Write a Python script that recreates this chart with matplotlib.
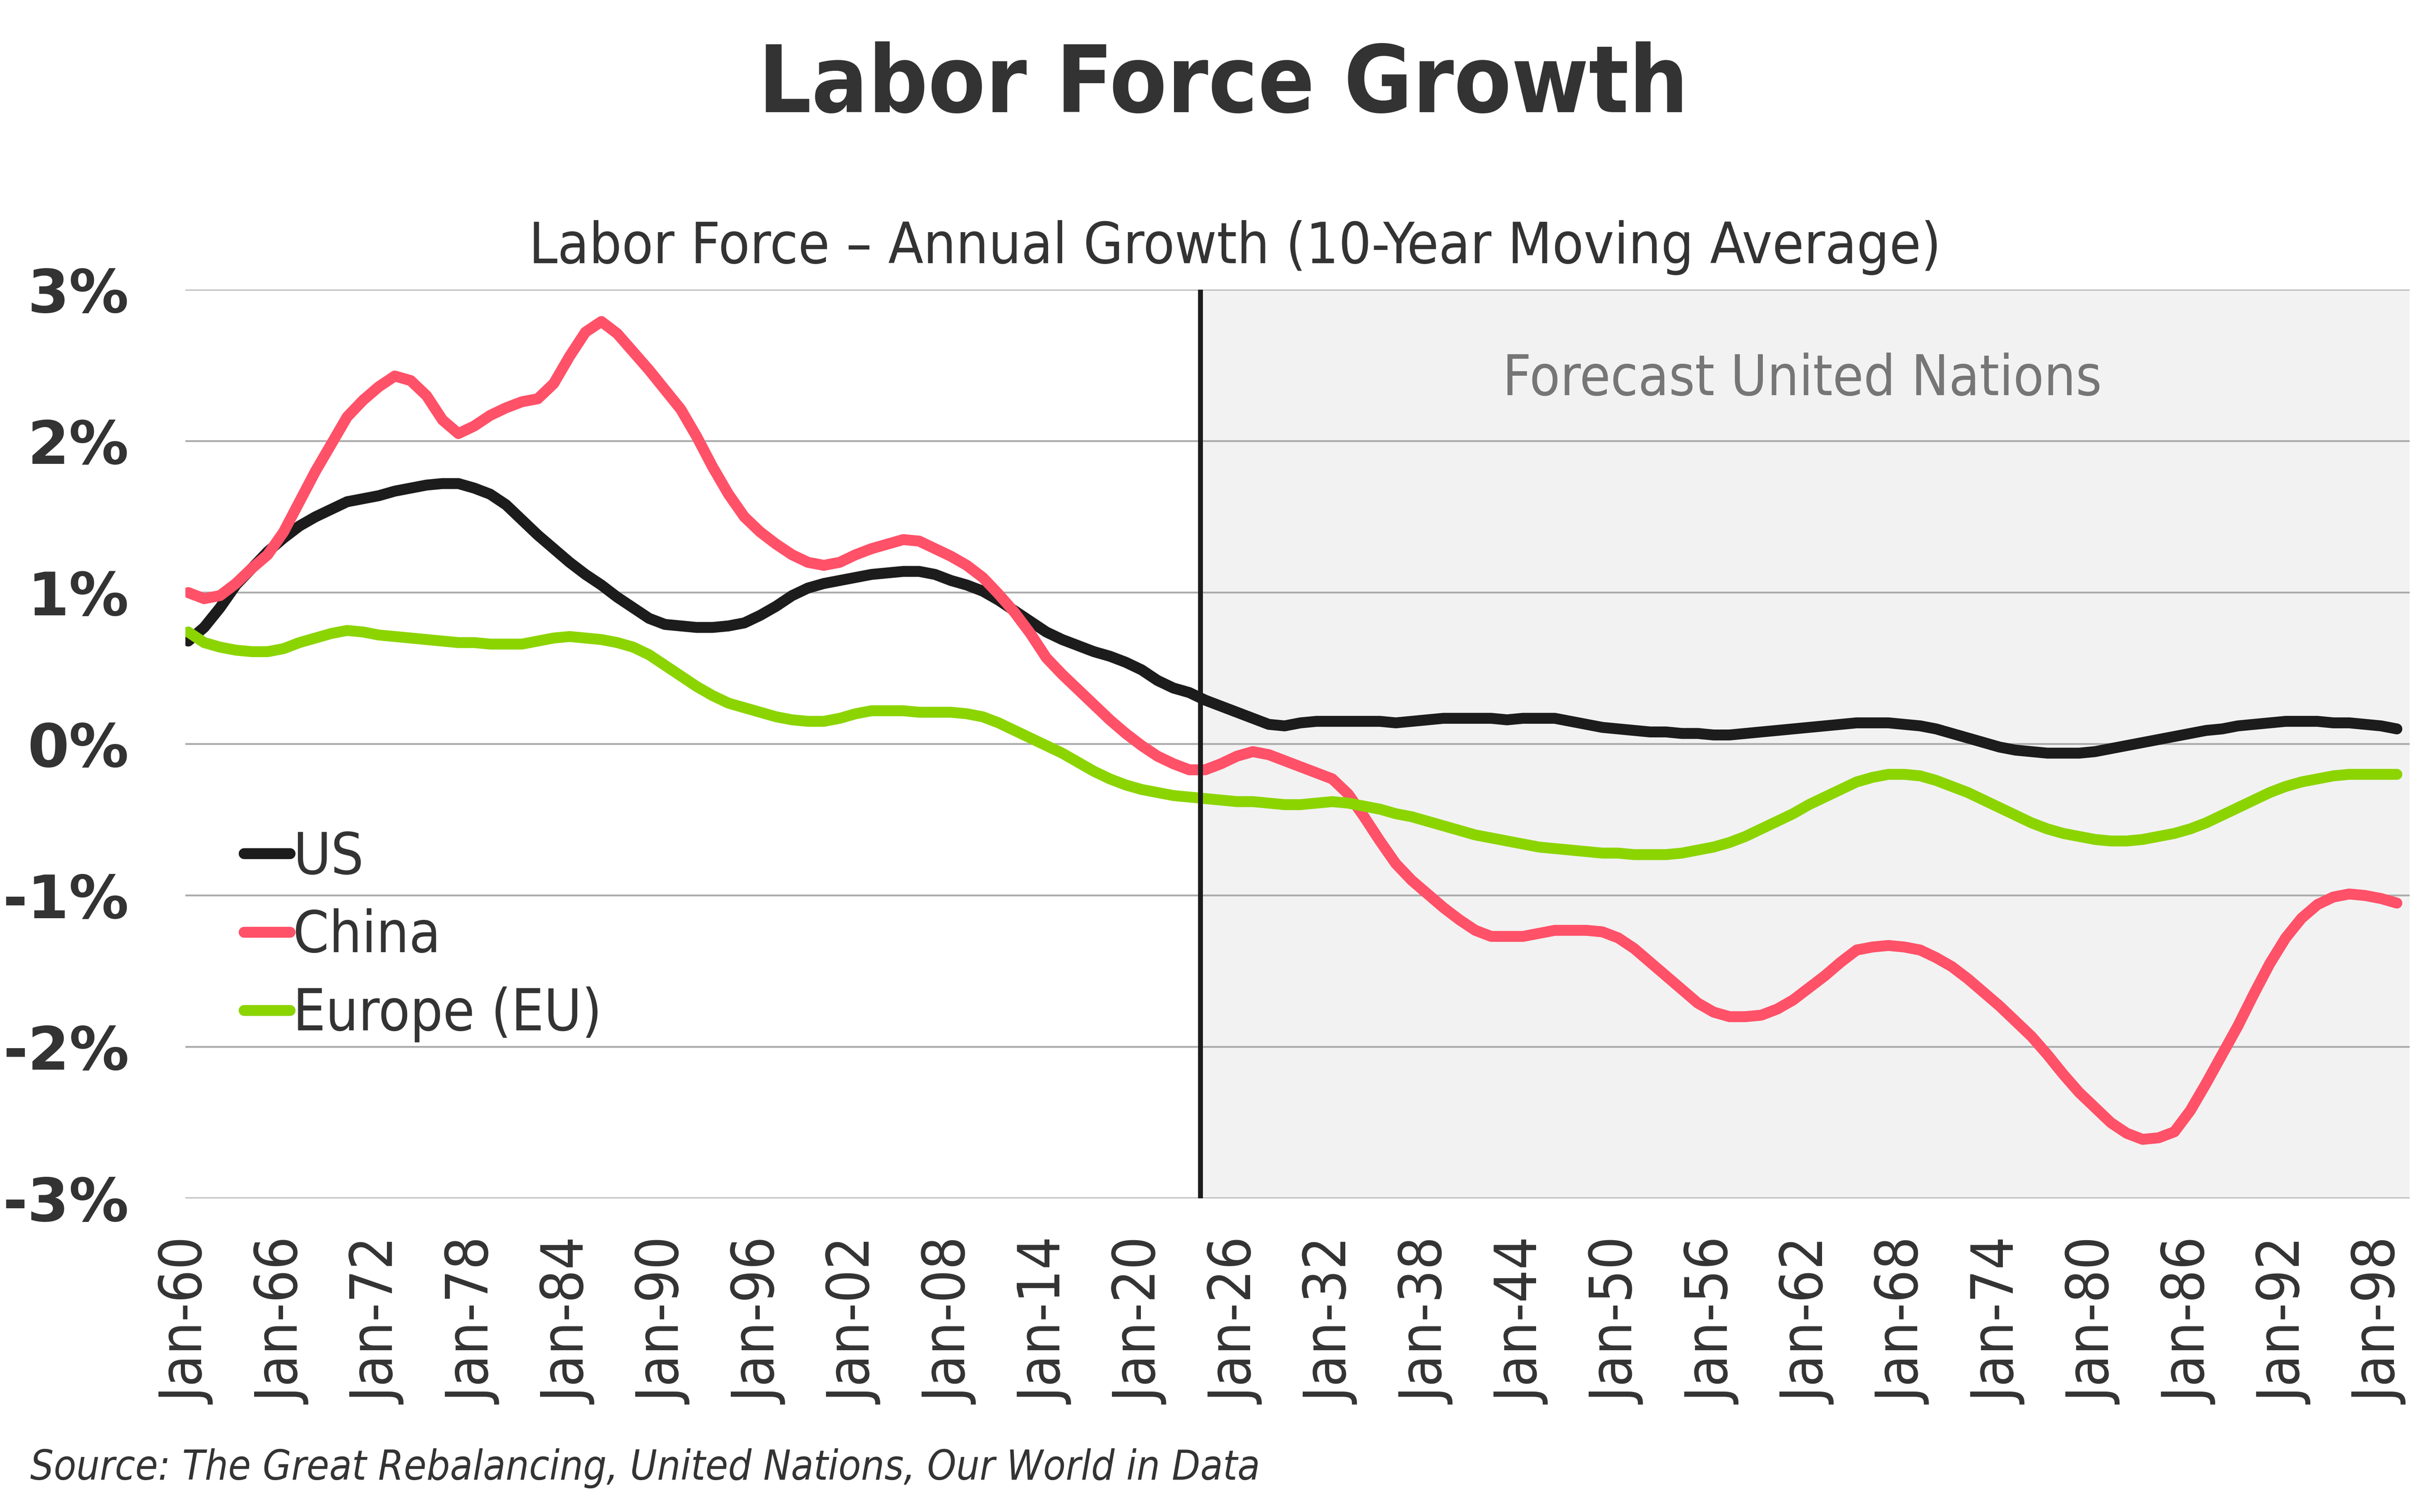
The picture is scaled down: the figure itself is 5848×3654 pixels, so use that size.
import os
import matplotlib
matplotlib.use("Agg")
import matplotlib.pyplot as plt
from matplotlib import font_manager as fm

# --- data: 10-year moving average of labor force growth, % per year ---
years = list(range(1960, 2100))

us = [0.68, 0.77, 0.90, 1.05, 1.16, 1.27, 1.36, 1.44, 1.50, 1.55,
      1.60, 1.62, 1.64, 1.67, 1.69, 1.71, 1.72, 1.72, 1.69, 1.65,
      1.58, 1.48, 1.38, 1.29, 1.20, 1.12, 1.05, 0.97, 0.90, 0.83,
      0.79, 0.78, 0.77, 0.77, 0.78, 0.80, 0.85, 0.91, 0.98, 1.03,
      1.06, 1.08, 1.10, 1.12, 1.13, 1.14, 1.14, 1.12, 1.08, 1.05,
      1.01, 0.95, 0.88, 0.81, 0.74, 0.69, 0.65, 0.61, 0.58, 0.54,
      0.49, 0.42, 0.37, 0.34, 0.29, 0.25, 0.21, 0.17, 0.13, 0.12,
      0.14, 0.15, 0.15, 0.15, 0.15, 0.15, 0.14, 0.15, 0.16, 0.17,
      0.17, 0.17, 0.17, 0.16, 0.17, 0.17, 0.17, 0.15, 0.13, 0.11,
      0.10, 0.09, 0.08, 0.08, 0.07, 0.07, 0.06, 0.06, 0.07, 0.08,
      0.09, 0.10, 0.11, 0.12, 0.13, 0.14, 0.14, 0.14, 0.13, 0.12,
      0.10, 0.07, 0.04, 0.01, -0.02, -0.04, -0.05, -0.06, -0.06, -0.06,
      -0.05, -0.03, -0.01, 0.01, 0.03, 0.05, 0.07, 0.09, 0.10, 0.12,
      0.13, 0.14, 0.15, 0.15, 0.15, 0.14, 0.14, 0.13, 0.12, 0.10]

china = [1.00, 0.96, 0.98, 1.06, 1.16, 1.25, 1.40, 1.60, 1.80, 1.98,
         2.16, 2.27, 2.36, 2.43, 2.40, 2.30, 2.14, 2.05, 2.10, 2.17,
         2.22, 2.26, 2.28, 2.38, 2.56, 2.72, 2.79, 2.71, 2.59, 2.47,
         2.34, 2.21, 2.03, 1.83, 1.65, 1.50, 1.40, 1.32, 1.25, 1.20,
         1.18, 1.20, 1.25, 1.29, 1.32, 1.35, 1.34, 1.29, 1.24, 1.18,
         1.10, 0.99, 0.87, 0.73, 0.57, 0.46, 0.36, 0.26, 0.16, 0.07,
         -0.01, -0.08, -0.13, -0.17, -0.17, -0.13, -0.08, -0.05, -0.07, -0.11,
         -0.15, -0.19, -0.23, -0.33, -0.48, -0.64, -0.79, -0.90, -0.99, -1.08,
         -1.16, -1.23, -1.27, -1.27, -1.27, -1.25, -1.23, -1.23, -1.23, -1.24,
         -1.28, -1.35, -1.44, -1.53, -1.62, -1.71, -1.77, -1.80, -1.80, -1.79,
         -1.75, -1.69, -1.61, -1.53, -1.44, -1.36, -1.34, -1.33, -1.34, -1.36,
         -1.41, -1.47, -1.55, -1.64, -1.73, -1.83, -1.93, -2.05, -2.18, -2.30,
         -2.40, -2.50, -2.57, -2.61, -2.60, -2.56, -2.42, -2.24, -2.05, -1.86,
         -1.65, -1.45, -1.28, -1.15, -1.06, -1.01, -0.99, -1.00, -1.02, -1.05]

europe = [0.74, 0.67, 0.64, 0.62, 0.61, 0.61, 0.63, 0.67, 0.70, 0.73,
          0.75, 0.74, 0.72, 0.71, 0.70, 0.69, 0.68, 0.67, 0.67, 0.66,
          0.66, 0.66, 0.68, 0.70, 0.71, 0.70, 0.69, 0.67, 0.64, 0.59,
          0.52, 0.45, 0.38, 0.32, 0.27, 0.24, 0.21, 0.18, 0.16, 0.15,
          0.15, 0.17, 0.20, 0.22, 0.22, 0.22, 0.21, 0.21, 0.21, 0.20,
          0.18, 0.14, 0.09, 0.04, -0.01, -0.06, -0.12, -0.18, -0.23, -0.27,
          -0.30, -0.32, -0.34, -0.35, -0.36, -0.37, -0.38, -0.38, -0.39, -0.40,
          -0.40, -0.39, -0.38, -0.39, -0.41, -0.43, -0.46, -0.48, -0.51, -0.54,
          -0.57, -0.60, -0.62, -0.64, -0.66, -0.68, -0.69, -0.70, -0.71, -0.72,
          -0.72, -0.73, -0.73, -0.73, -0.72, -0.70, -0.68, -0.65, -0.61, -0.56,
          -0.51, -0.46, -0.40, -0.35, -0.30, -0.25, -0.22, -0.20, -0.20, -0.21,
          -0.24, -0.28, -0.32, -0.37, -0.42, -0.47, -0.52, -0.56, -0.59, -0.61,
          -0.63, -0.64, -0.64, -0.63, -0.61, -0.59, -0.56, -0.52, -0.47, -0.42,
          -0.37, -0.32, -0.28, -0.25, -0.23, -0.21, -0.20, -0.20, -0.20, -0.20]

forecast_start = 2023.7
tick_years = list(range(1960, 2100, 6))
tick_labels = ["Jan-%02d" % (y % 100) for y in tick_years]
y_ticks = [-3, -2, -1, 0, 1, 2, 3]
y_labels = ["%d%%" % v for v in y_ticks]

TXT = "#333333"

# DejaVu Sans Condensed if it is there, plain DejaVu Sans otherwise
cond_files = {}
for f in fm.findSystemFonts():
    b = os.path.basename(f)
    if b.startswith("DejaVuSansCondensed"):
        cond_files[b] = f


def font(size, bold=False, italic=False, condensed=True):
    name = "DejaVuSansCondensed"
    if bold and italic:
        name += "-BoldOblique"
    elif bold:
        name += "-Bold"
    elif italic:
        name += "-Oblique"
    name += ".ttf"
    if condensed and name in cond_files:
        return fm.FontProperties(fname=cond_files[name], size=size)
    return fm.FontProperties(family="DejaVu Sans", size=size,
                             weight="bold" if bold else "normal",
                             style="italic" if italic else "normal")


fig = plt.figure(figsize=(58.48, 36.54), dpi=100)
ax = fig.add_axes([0.0766, 0.2074, 0.9191, 0.6010])

ax.axvspan(forecast_start, 2100, color="#f2f2f2", zorder=0.2, lw=0)
ax.axvline(forecast_start, color="#1c1c1c", lw=8.5, zorder=4)

ax.plot(years, us, color="#1c1c1c", lw=19, solid_capstyle="round",
        solid_joinstyle="round", label="US", zorder=3)
ax.plot(years, china, color="#ff5168", lw=19, solid_capstyle="round",
        solid_joinstyle="round", label="China", zorder=3)
ax.plot(years, europe, color="#8cd400", lw=19, solid_capstyle="round",
        solid_joinstyle="round", label="Europe (EU)", zorder=3)

ax.set_xlim(1959.82, 2099.8)
ax.set_ylim(-3, 3)
ax.set_yticks(y_ticks)
ax.set_yticklabels(y_labels)
ax.set_xticks(tick_years)
ax.set_xticklabels(tick_labels, rotation=90)
for lab in ax.get_yticklabels():
    lab.set_fontproperties(font(104, bold=True, condensed=False))
    lab.set_color(TXT)
for lab in ax.get_xticklabels():
    lab.set_fontproperties(font(101))
    lab.set_color(TXT)
ax.tick_params(axis="both", length=0)
ax.tick_params(axis="y", pad=98)
ax.tick_params(axis="x", pad=70)
ax.yaxis.grid(True, color="#ababab", lw=3.2)
ax.set_axisbelow(True)
for s in ax.spines.values():
    s.set_visible(False)

ax.text(0.727, 0.884, "Forecast United Nations", transform=ax.transAxes,
        ha="center", va="baseline", color="#767676",
        fontproperties=font(97))

fig.text(0.5055, 0.9258, "Labor Force Growth", ha="center", va="baseline",
         color=TXT, fontproperties=font(162, bold=True))
fig.text(0.5104, 0.826, "Labor Force \u2013 Annual Growth (10-Year Moving Average)",
         ha="center", va="baseline", color=TXT, fontproperties=font(99.5))
fig.text(0.0125, 0.0213, "Source: The Great Rebalancing, United Nations, Our World in Data",
         ha="left", va="baseline", color=TXT, fontproperties=font(71.5, italic=True))

leg = fig.legend(loc="upper left", bbox_to_anchor=(0.1009, 0.451),
                 frameon=False, prop=font(100), handlelength=0.8,
                 handletextpad=0.05, labelspacing=0.39, borderpad=0,
                 borderaxespad=0)
for t in leg.get_texts():
    t.set_color(TXT)

fig.savefig("out.png", dpi=100, facecolor="white")
